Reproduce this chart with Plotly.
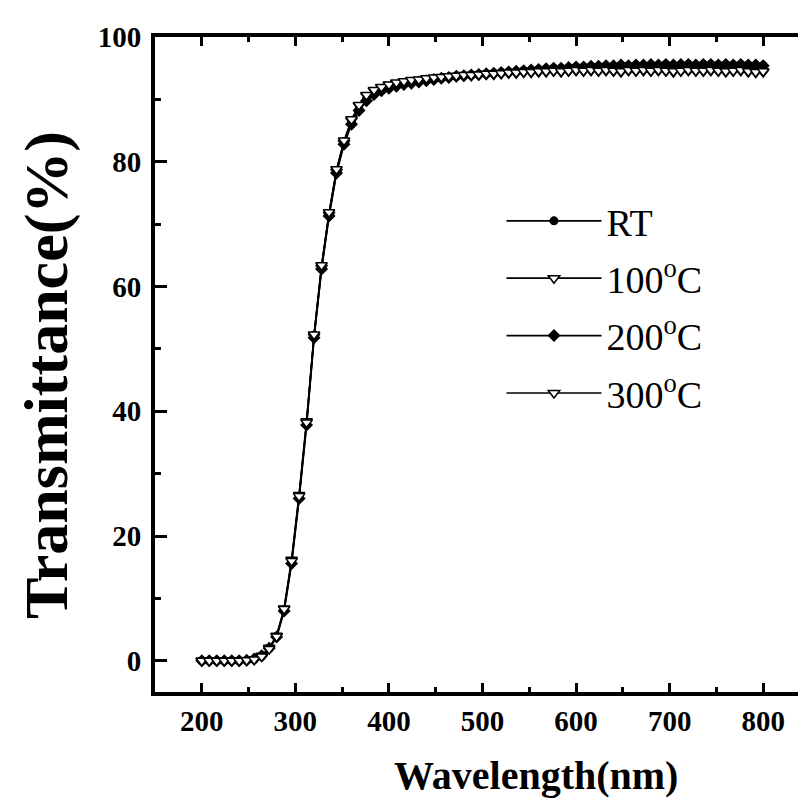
import plotly.graph_objects as go

wavelength = [200, 208, 216, 224, 232, 240, 248, 256, 264, 272, 280, 288, 296, 304, 312, 320,
              328, 336, 344, 352, 360, 368, 376, 384, 392, 400, 408, 416, 424, 432, 440, 448,
              456, 464, 472, 480, 488, 496, 504, 512, 520, 528, 536, 544, 552, 560, 568, 576,
              584, 592, 600, 608, 616, 624, 632, 640, 648, 656, 664, 672, 680, 688, 696, 704,
              712, 720, 728, 736, 744, 752, 760, 768, 776, 784, 792, 800]

t_rt = [0.0, 0.0, 0.0, 0.0, 0.0, 0.0, 0.1, 0.2, 0.7, 2.0, 3.9, 8.2, 15.9, 26.3, 38.1, 52.2,
        63.2, 71.7, 78.6, 83.2, 86.3, 88.4, 90.0, 90.9, 91.5, 91.9, 92.2, 92.5, 92.7, 92.9, 93.1, 93.3,
        93.4, 93.6, 93.7, 93.8, 93.9, 94.0, 94.1, 94.2, 94.3, 94.4, 94.5, 94.6, 94.7, 94.8, 94.9, 95.0,
        95.0, 95.1, 95.2, 95.2, 95.3, 95.3, 95.4, 95.3, 95.4, 95.4, 95.5, 95.4, 95.5, 95.5, 95.6, 95.5,
        95.5, 95.6, 95.5, 95.6, 95.6, 95.5, 95.6, 95.5, 95.6, 95.5, 95.5, 95.4]

t_100 = [0.0, 0.0, 0.0, 0.0, 0.0, 0.0, 0.1, 0.2, 0.8, 2.1, 4.0, 8.4, 16.2, 26.6, 38.4, 52.0,
         63.0, 71.5, 78.4, 83.0, 86.6, 89.0, 90.6, 91.4, 91.9, 92.3, 92.6, 92.8, 93.0, 93.1, 93.3, 93.4,
         93.5, 93.6, 93.7, 93.8, 93.8, 93.9, 94.0, 94.0, 94.1, 94.2, 94.2, 94.3, 94.3, 94.4, 94.4, 94.5,
         94.4, 94.5, 94.6, 94.5, 94.6, 94.5, 94.6, 94.5, 94.4, 94.6, 94.5, 94.6, 94.5, 94.6, 94.5, 94.4,
         94.5, 94.6, 94.5, 94.5, 94.6, 94.5, 94.4, 94.5, 94.6, 94.4, 94.3, 94.4]

t_200 = [0.0, 0.0, 0.0, 0.0, 0.0, 0.0, 0.1, 0.3, 0.8, 2.0, 3.8, 8.0, 15.6, 26.0, 37.8, 51.8,
         62.8, 71.3, 78.2, 82.8, 86.0, 88.2, 89.8, 90.8, 91.4, 91.8, 92.1, 92.4, 92.6, 92.8, 93.0, 93.2,
         93.4, 93.5, 93.7, 93.8, 93.9, 94.0, 94.1, 94.2, 94.3, 94.4, 94.5, 94.6, 94.7, 94.8, 94.9, 95.0,
         95.0, 95.1, 95.2, 95.2, 95.3, 95.3, 95.4, 95.4, 95.5, 95.4, 95.5, 95.5, 95.6, 95.5, 95.6, 95.5,
         95.6, 95.6, 95.5, 95.6, 95.6, 95.5, 95.6, 95.5, 95.6, 95.5, 95.5, 95.4]

t_300 = [0.0, 0.0, 0.0, 0.0, 0.0, 0.0, 0.1, 0.2, 0.7, 1.9, 3.9, 8.3, 16.0, 26.4, 38.2, 52.3,
         63.4, 71.9, 78.8, 83.4, 86.8, 89.1, 90.7, 91.5, 92.0, 92.4, 92.7, 92.9, 93.1, 93.2, 93.4, 93.5,
         93.6, 93.7, 93.8, 93.9, 93.9, 94.0, 94.1, 94.1, 94.2, 94.3, 94.3, 94.4, 94.4, 94.5, 94.5, 94.6,
         94.5, 94.6, 94.7, 94.6, 94.7, 94.6, 94.7, 94.6, 94.5, 94.7, 94.6, 94.7, 94.6, 94.7, 94.6, 94.5,
         94.6, 94.7, 94.6, 94.6, 94.7, 94.6, 94.5, 94.6, 94.7, 94.5, 94.4, 94.5]

series_names = ["RT", "100<sup>o</sup>C", "200<sup>o</sup>C", "300<sup>o</sup>C"]
series_values = [t_rt, t_100, t_200, t_300]
x_ticks = [200, 300, 400, 500, 600, 700, 800]
y_ticks = [0, 20, 40, 60, 80, 100]

styles = [
    dict(symbol="circle", color="black", size=9, lw=0, lc="black", width=1.8),
    dict(symbol="triangle-down", color="white", size=10, lw=1.5, lc="black", width=1.8),
    dict(symbol="diamond", color="black", size=10, lw=0, lc="black", width=1.8),
    dict(symbol="triangle-down", color="white", size=10, lw=1.5, lc="black", width=1.4),
]

fig = go.Figure()
for i, (name, vals, st) in enumerate(zip(series_names, series_values, styles)):
    fig.add_trace(go.Scatter(
        x=wavelength, y=vals, name=name, mode="lines+markers",
        legendgroup=f"g{i}",
        line=dict(color="black", width=st["width"]),
        marker=dict(symbol=st["symbol"], color=st["color"], size=st["size"],
                    line=dict(color=st["lc"], width=st["lw"])),
    ))

serif = "Liberation Serif"
axis_common = dict(showline=True, linecolor="black", linewidth=4, showgrid=False,
                   zeroline=False, ticks="inside", tickcolor="black", mirror="ticks",
                   tickfont=dict(family=serif, size=29, color="black", weight="bold"))

fig.update_xaxes(range=[150, 850], tickvals=x_ticks, ticklen=9, tickwidth=3,
                 minor=dict(ticks="inside", ticklen=5, tickwidth=2.5, dtick=50, tick0=150,
                            tickcolor="black"),
                 **axis_common)
fig.update_yaxes(range=[-5, 100], tickvals=y_ticks, ticklen=12, tickwidth=3,
                 ticklabelstandoff=4,
                 minor=dict(ticks="inside", ticklen=6, tickwidth=2.5, dtick=10, tick0=0,
                            tickcolor="black"),
                 **axis_common)

fig.update_layout(
    width=806, height=811,
    margin=dict(l=147, r=0, t=29, b=127),
    plot_bgcolor="white", paper_bgcolor="white",
    showlegend=True,
    legend=dict(x=0.529, y=0.767, xanchor="left", yanchor="top",
                bgcolor="rgba(0,0,0,0)", itemwidth=95, tracegroupgap=5,
                font=dict(family=serif, size=38, color="black")),
    annotations=[
        dict(text="<b>Wavelength(nm)</b>", xref="paper", yref="paper",
             x=0.582, y=-0.127, xanchor="center", yanchor="middle", showarrow=False,
             font=dict(family=serif, size=40, color="black")),
        dict(text="<b>Transmittance(%)</b>", xref="paper", yref="paper",
             x=-0.165, y=0.484, xanchor="center", yanchor="middle", showarrow=False,
             textangle=-90, font=dict(family=serif, size=62, color="black")),
    ],
)

fig.write_html("out.html")
